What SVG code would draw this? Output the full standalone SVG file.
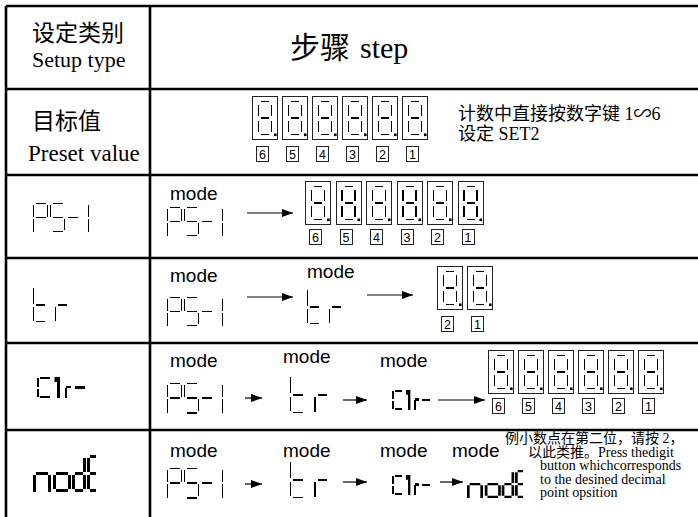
<svg xmlns="http://www.w3.org/2000/svg" width="698" height="517" viewBox="0 0 698 517">
<style>
.grid{stroke:#000;stroke-width:2.6;fill:none}
.seg{fill:none;stroke:#000;stroke-width:1.4;shape-rendering:crispEdges}
.segb{fill:none;stroke:#000;stroke-width:2.6;shape-rendering:crispEdges}
.box{fill:none;stroke:#222;stroke-width:1;shape-rendering:crispEdges}
.lbl{font-family:"Liberation Sans",Arial,sans-serif;font-size:12.5px;text-anchor:middle;fill:#000}
.mode{font-family:"Liberation Sans",Arial,sans-serif;font-size:19px;fill:#000}
.zh{font-family:"Noto Sans CJK SC",sans-serif;fill:#000}
.ser{font-family:"Liberation Serif","Noto Sans CJK SC",serif;fill:#000}
.arr{stroke:#000;stroke-width:1.2;fill:none;marker-end:url(#ah)}
</style>
<defs>
<marker id="ah" markerUnits="userSpaceOnUse" markerWidth="11" markerHeight="8" refX="11" refY="4" orient="auto"><path d="M0,0 L11,4 L0,8 Z" fill="#000"/></marker>
<g id="d8"><rect class="box" x="0.5" y="0.5" width="25" height="43"/><path class="seg" d="M9,5.5 H17 M6.5,8.5 V19.5 M19.5,8.5 V19.5 M9,22 H17 M6.5,24.5 V35.5 M19.5,24.5 V35.5 M9,38.5 H17"/><path class="seg" stroke-width="2" d="M9,22 H17"/><rect x="22" y="37.5" width="2.6" height="2.6"/></g>
<rect id="lb" class="box" x="0.5" y="0.5" width="12" height="15"/>
<path id="ps1" class="seg" d="M2.5,0.5 H12.5 M0.5,2 V13.5 M14.5,2 V13.5 M2.5,14.5 H12.5 M0.5,15.5 V28.5 M19.5,0.5 H29.5 M17.5,2 V13.5 M19.5,14.5 H29.5 M31.5,15.5 V27 M19.5,28.5 H29.5 M35,14.5 H45 M55.5,1.5 V13.5 M55.5,15.5 V28.5"/>
<path id="tr" class="seg" d="M0.5,0 V15.5 M0.5,18.5 V32.5 M3,17 H12 M3,33.5 H12 M22.5,18.5 V33 M25,17 H34"/>
<g id="clr"><path class="segb" d="M0,1 V9.5 M0,11.5 V20 M2,1 H12 M2,20 H12 M28,11 V21 M28,10 H33 M37,10.5 H47"/><path fill="none" stroke="#000" stroke-width="3" d="M20.5,0 V21 M18,0 V5"/></g>
<path id="node" fill="none" stroke="#000" stroke-width="3" d="M3,18.5 H15 M1.5,20 V37 M16.5,20 V37 M23,18.5 H35 M21.5,20 V34 M36.5,20 V34 M23,35.5 H35 M42,18.5 H50 M40.5,20 V34 M42,35.5 H50 M51.5,3 V17 M51.5,20 V34 M57,1.5 H63 M55.5,3 V17 M57,18.5 H63 M55.5,20 V34 M57,35.5 H63"/>
</defs>
<rect width="698" height="517" fill="#fff"/>
<g id="table">
<path class="grid" d="M6,6 H698 M6,89 H698 M6,175 H698 M6,258 H698 M6,343 H698 M6,430 H698 M6,6 V517 M150,6 V517"/>
</g>
<g id="header">
<text class="zh" x="32" y="41" font-size="23">设定类别</text>
<text class="ser" x="32" y="67" font-size="22">Setup type</text>
<text class="zh" x="290" y="58" font-size="30">步骤</text>
<text class="ser" x="360" y="58" font-size="30">step</text>
</g>
<g id="row-preset">
<text class="zh" x="32" y="129" font-size="23">目标值</text>
<text class="ser" x="28" y="161" font-size="23">Preset value</text>
<use href="#d8" x="252" y="96"/><use href="#d8" x="282" y="96"/><use href="#d8" x="312" y="96"/><use href="#d8" x="342" y="96"/><use href="#d8" x="372" y="96"/><use href="#d8" x="402" y="96"/>
<use href="#lb" x="256" y="146"/><use href="#lb" x="286" y="146"/><use href="#lb" x="316" y="146"/><use href="#lb" x="346" y="146"/><use href="#lb" x="376" y="146"/><use href="#lb" x="406" y="146"/>
<text class="lbl" x="262.5" y="158.5">6</text><text class="lbl" x="292.5" y="158.5">5</text><text class="lbl" x="322.5" y="158.5">4</text><text class="lbl" x="352.5" y="158.5">3</text><text class="lbl" x="382.5" y="158.5">2</text><text class="lbl" x="412.5" y="158.5">1</text>
<text class="ser" x="458" y="120" font-size="18">计数中直接按数字键 1∽6</text>
<text class="ser" x="458" y="140" font-size="18">设定 SET2</text>
</g>
<g id="row-ps1">
<use href="#ps1" x="33" y="203"/>
<text class="mode" x="170" y="200">mode</text>
<use href="#ps1" x="167" y="207"/>
<use href="#d8" x="305" y="181"/><use href="#d8" x="335.5" y="181"/><use href="#d8" x="366" y="181"/><use href="#d8" x="396.5" y="181"/><use href="#d8" x="427" y="181"/><use href="#d8" x="457.5" y="181"/>
<use href="#lb" x="309" y="229"/><use href="#lb" x="339.5" y="229"/><use href="#lb" x="370" y="229"/><use href="#lb" x="400.5" y="229"/><use href="#lb" x="431" y="229"/><use href="#lb" x="461.5" y="229"/>
<text class="lbl" x="315.5" y="241.5">6</text><text class="lbl" x="346" y="241.5">5</text><text class="lbl" x="376.5" y="241.5">4</text><text class="lbl" x="407" y="241.5">3</text><text class="lbl" x="437.5" y="241.5">2</text><text class="lbl" x="468" y="241.5">1</text>
</g>
<g id="row-tr">
<use href="#tr" x="33" y="288"/>
<text class="mode" x="170" y="282">mode</text>
<use href="#ps1" x="167" y="297"/>
<text class="mode" x="307" y="278">mode</text>
<use href="#tr" x="307" y="290"/>
<use href="#d8" x="437" y="266"/><use href="#d8" x="467" y="266"/>
<use href="#lb" x="441" y="316"/><use href="#lb" x="471" y="316"/>
<text class="lbl" x="447.5" y="328.5">2</text><text class="lbl" x="477.5" y="328.5">1</text>
</g>
<g id="row-clr">
<use href="#clr" x="38" y="377"/>
<text class="mode" x="170" y="367">mode</text>
<use href="#ps1" transform="translate(167,383) scale(1,1.05)"/>
<text class="mode" x="283" y="363">mode</text>
<use href="#tr" transform="translate(290,377) scale(1.1,1.06)"/>
<text class="mode" x="380" y="367">mode</text>
<use href="#clr" transform="translate(393,390) scale(0.79,0.95)"/>
<use href="#d8" x="488" y="350"/><use href="#d8" x="518" y="350"/><use href="#d8" x="548" y="350"/><use href="#d8" x="578" y="350"/><use href="#d8" x="608" y="350"/><use href="#d8" x="638" y="350"/>
<use href="#lb" x="492" y="398"/><use href="#lb" x="522" y="398"/><use href="#lb" x="552" y="398"/><use href="#lb" x="582" y="398"/><use href="#lb" x="612" y="398"/><use href="#lb" x="642" y="398"/>
<text class="lbl" x="498.5" y="410.5">6</text><text class="lbl" x="528.5" y="410.5">5</text><text class="lbl" x="558.5" y="410.5">4</text><text class="lbl" x="588.5" y="410.5">3</text><text class="lbl" x="618.5" y="410.5">2</text><text class="lbl" x="648.5" y="410.5">1</text>
</g>
<g id="row-node">
<use href="#node" x="33" y="455"/>
<text class="mode" x="170" y="457">mode</text>
<use href="#ps1" transform="translate(167,468) scale(1,1.05)"/>
<text class="mode" x="283" y="457">mode</text>
<use href="#tr" transform="translate(290,462) scale(1.1,1.06)"/>
<text class="mode" x="380" y="457">mode</text>
<use href="#clr" transform="translate(393,475) scale(0.79,0.95)"/>
<text class="mode" x="452" y="457">mode</text>
<use href="#node" transform="translate(467,470) scale(0.89,0.76)"/>
<text class="ser" x="505" y="443" font-size="14">例小数点在第二位，请按 2，</text>
<text class="ser" x="528" y="456.5" font-size="14">以此类推。Press thedigit</text>
<text class="ser" x="540" y="470" font-size="14">button whichcorresponds</text>
<text class="ser" x="540" y="483.5" font-size="14">to the desined decimal</text>
<text class="ser" x="540" y="497" font-size="14">point opsition</text>
</g>
<g id="connectors">
<path class="arr" d="M247,213 H293"/>
<path class="arr" d="M247,297 H293"/>
<path class="arr" d="M367,295 H413"/>
<path class="arr" d="M245,398 H262"/>
<path class="arr" d="M343,400 H367"/>
<path class="arr" d="M438,400 H485"/>
<path class="arr" d="M245,484 H262"/>
<path class="arr" d="M343,482 H367"/>
<path class="arr" d="M440,482 H463"/>
</g>
</svg>
